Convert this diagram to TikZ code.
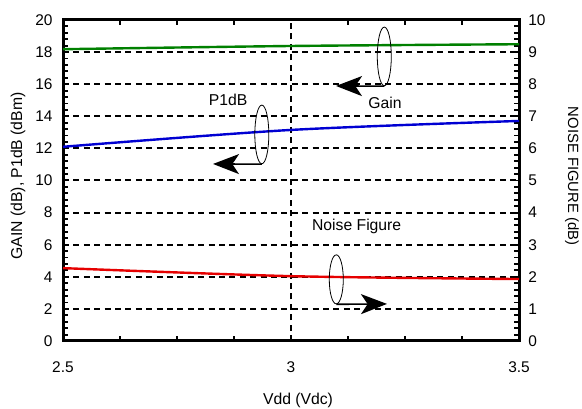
\documentclass[tikz,border=0pt]{standalone}
\usepackage{fontspec}
\setmainfont{Liberation Sans}
\usetikzlibrary{arrows.meta,shapes.geometric}
\definecolor{gaingreen}{RGB}{0,128,0}
\definecolor{pdbblue}{RGB}{0,0,210}
\definecolor{nfred}{RGB}{230,0,0}

\begin{document}
\begin{tikzpicture}[x=0.75pt, y=0.75pt,
		gridline/.style={line width=1.5pt, dash pattern=on 4.5pt off 3.3pt},
		curve/.style={line width=1.8pt},
		minortick/.style={line width=1.4pt},
		loopmark/.style={ellipse, draw, line width=0.6pt, inner sep=0pt, minimum width=10.5pt},
		pointer/.style={line width=1.2pt, -{Stealth[length=19.5pt, width=15pt, inset=5pt]}},
		ticklabel/.style={inner sep=0pt, font=\fontsize{11.6}{14}\selectfont},
		axislabel/.style={inner sep=0pt, font=\fontsize{11.8}{14}\selectfont}]
			%%%%% START %%%%%
			
			\useasboundingbox (0, 0) rectangle (582, 409);
			
			\begin{scope}[shift={(-1077, 68)}, x=342pt, y=12.0375pt]
			
			\foreach \g in {2, 4, ..., 18}
				\draw[gridline] (2.5, \g) -- (3.5, \g);
			\draw[gridline] (3, 0) -- (3, 20);
			
			\foreach \v in {2.625, 2.75, 2.875, 3.125, 3.25, 3.375} {
				\draw[minortick] (\v, 0) -- ++(0, 4pt);
				\draw[minortick] (\v, 20) -- ++(0, -4pt);
			}
			\foreach \g in {0.4, 0.8, ..., 19.7} {
				\draw[minortick] (2.5, \g) -- ++(4pt, 0);
				\draw[minortick] (3.5, \g) -- ++(-4pt, 0);
			}
			
			\draw[line width=2.25pt] (2.5, 0) rectangle (3.5, 20);
			
			\foreach \g in {0, 2, ..., 20}
				\node[ticklabel, anchor=east] (left\g) at ([xshift=-7.6pt] 2.5, \g) {\g};
			\foreach \n in {0, ..., 10}
				\node[ticklabel, anchor=west] (right\n) at ([xshift=6.8pt] 3.5, 2*\n) {\n};
			\node[ticklabel] (bot25) at ([yshift=-19.6pt] 2.5, 0) {2.5};
			\node[ticklabel] (bot3) at ([yshift=-19.6pt] 3, 0) {3};
			\node[ticklabel] (bot35) at ([yshift=-19.6pt] 3.5, 0) {3.5};
			
			\draw[curve, gaingreen] plot[smooth] coordinates {(2.5, 18.18) (3, 18.38) (3.5, 18.49)};
			\draw[curve, pdbblue] plot[smooth] coordinates {(2.5, 12.1) (3, 13.15) (3.5, 13.71)};
			\draw[curve, nfred] plot[smooth] coordinates {(2.5, 4.54) (3, 4.04) (3.5, 3.86)};
			
			\node[loopmark, minimum height=44pt] (gainloop) at (3.2046, 17.73) {};
			\coordinate (gaintip) at (3.0987, 15.89);
			\draw[pointer] (gainloop.south) -- (gaintip);
			\node[axislabel] (gaintext) at (3.206, 14.85) {Gain};
			
			\node[loopmark, minimum height=44pt] (pdbloop) at (2.936, 12.87) {};
			\coordinate (pdbtip) at (2.829, 11.03);
			\draw[pointer] (pdbloop.south) -- (pdbtip);
			\node[axislabel] (pdbtext) at (2.862, 15.02) {P1dB};
			
			\node[loopmark, minimum height=36.8pt] (nfloop) at (3.0993, 3.84) {};
			\coordinate (nftip) at (3.2105, 2.31);
			\draw[pointer] (nfloop.south) -- (nftip);
			\node[axislabel] (nftext) at (3.144, 7.13) {Noise Figure};
			
			\end{scope}
			
			\node[axislabel] (xtitle) at (298, 9) {Vdd (Vdc)};
			\node[axislabel, rotate=90] (lefttitle) at (18, 233) {GAIN (dB), P1dB (dBm)};
			\node[axislabel, rotate=-90, font=\fontsize{11.1}{14}\selectfont] (righttitle) at (572, 233) {NOISE FIGURE (dB)};
			
			%%%%% END %%%%%
\end{tikzpicture}
\end{document}
